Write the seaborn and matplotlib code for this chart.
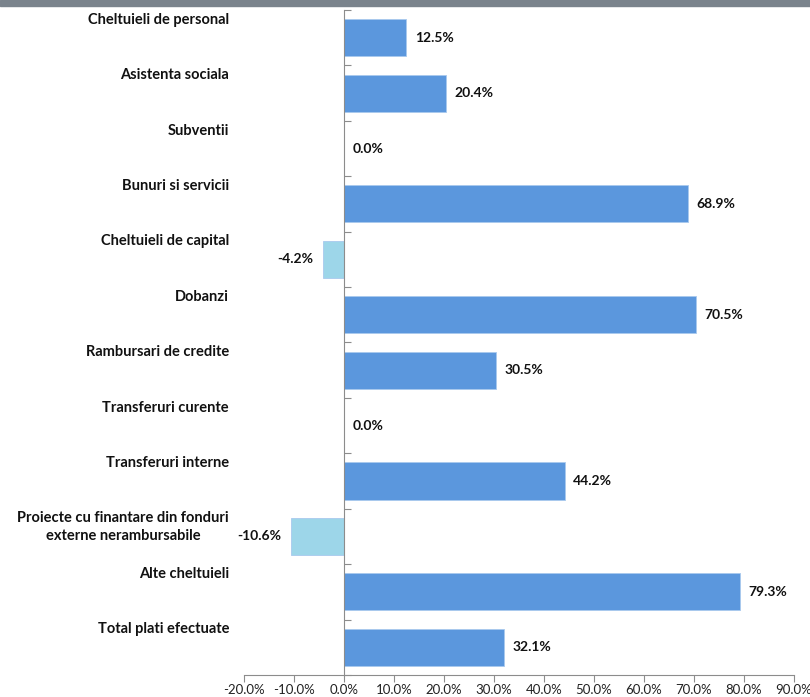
import matplotlib
matplotlib.use('Agg')
import seaborn as sns
import matplotlib.pyplot as plt
import matplotlib.ticker as ticker
import pandas as pd
import numpy as np

# data
categories = ["Cheltuieli de personal", "Asistenta sociala", "Subventii", "Bunuri si servicii",
              "Cheltuieli de capital", "Dobanzi", "Rambursari de credite", "Transferuri curente",
              "Transferuri interne", "Proiecte cu finantare din fonduri\nexterne nerambursabile",
              "Alte cheltuieli", "Total plati efectuate"]
values = [12.5, 20.4, 0.0, 68.9, -4.2, 70.5, 30.5, 0.0, 44.2, -10.6, 79.3, 32.1]
xTicks = [-20, -10, 0, 10, 20, 30, 40, 50, 60, 70, 80, 90]

posColour = "#5b97dd"
negColour = "#9dd6e9"
axisColour = "#8c8c8c"

sns.set_theme(style="white")
plt.rcParams['font.family'] = ['Lato', 'DejaVu Sans']

df = pd.DataFrame({"cat": categories, "val": values})
df["sign"] = np.where(df["val"] < 0, "neg", "pos")

fig = plt.figure(figsize=(8.1, 6.97), dpi=100)
ax = fig.add_axes([0.3012, 0.0316, 0.9802 - 0.3012, 0.9857 - 0.0316])
fig.patches.append(plt.Rectangle((0, 1 - 6 / 697), 1, 6 / 697, transform=fig.transFigure,
                                 color="#7a838c", zorder=0))

sns.barplot(ax=ax, data=df, x="val", y="cat", hue="sign", orient="h", dodge=False,
            palette={"pos": posColour, "neg": negColour}, width=0.67, legend=False,
            edgecolor="#a9c9ee", linewidth=0.6, saturation=1)

ax.set_xlim(-20, 90)
ax.set_ylim(len(categories) - 0.5, -0.5)
ax.set_xticks(xTicks)
ax.xaxis.set_major_formatter(ticker.FuncFormatter(lambda v, p: "{:.1f}%".format(v)))
ax.tick_params(axis="x", bottom=True, direction="out", length=5, width=0.8, color=axisColour,
               labelsize=9.5, labelcolor="#222222", pad=1.5)
ax.set_yticks(np.arange(-0.5, len(categories), 1.0))
ax.set_yticklabels([])
ax.tick_params(axis="y", left=True, direction="in", length=5, width=0.8, color=axisColour)
ax.set_xlabel("")
ax.set_ylabel("")

for side in ["top", "right"]:
    ax.spines[side].set_visible(False)
ax.spines["left"].set_position(("data", 0))
ax.spines["left"].set_color(axisColour)
ax.spines["bottom"].set_color(axisColour)
ax.spines["left"].set_linewidth(0.8)
ax.spines["bottom"].set_linewidth(0.8)

# category labels sit top-left of each slot
for i, cat in enumerate(categories):
    ax.text(-0.027, i - 0.45, cat, transform=ax.get_yaxis_transform(), ha="right", va="top",
            multialignment="center", fontsize=10.5, fontweight="bold", color="#111111",
            linespacing=1.3)

# value labels
for i, v in enumerate(values):
    if v < 0:
        ax.annotate("{:.1f}%".format(v), (v, i), xytext=(-7, 0), textcoords="offset points",
                    ha="right", va="center", fontsize=10, fontweight="bold", color="#111111")
    else:
        ax.annotate("{:.1f}%".format(v), (v, i), xytext=(6, 0), textcoords="offset points",
                    ha="left", va="center", fontsize=10, fontweight="bold", color="#111111")

plt.savefig("out.png", dpi=100)
plt.close("all")
